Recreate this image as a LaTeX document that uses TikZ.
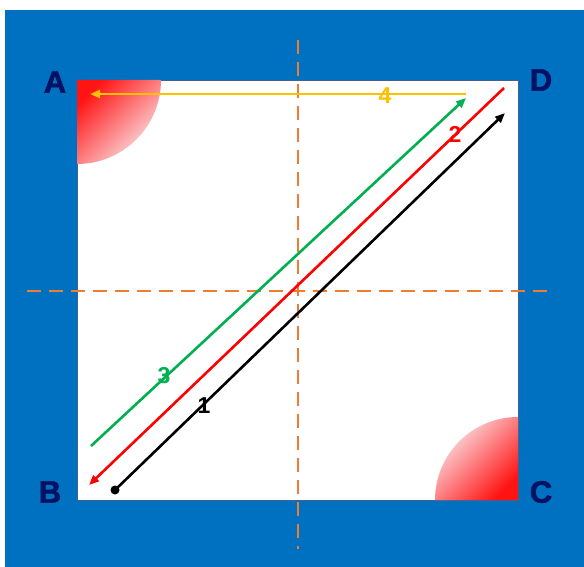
\documentclass[tikz,border=0pt]{standalone}
\usepackage{fontspec}
\setmainfont{Liberation Sans}
\newfontface\heavyfont{Liberation Sans Bold}[FakeBold=1.8]
\usetikzlibrary{arrows.meta}
\definecolor{bgblue}{RGB}{0,112,192}
\definecolor{navy}{RGB}{0,18,100}
\definecolor{dorange}{RGB}{237,125,49}
\definecolor{gold}{RGB}{255,192,0}
\definecolor{mgreen}{RGB}{0,176,80}
\definecolor{mred}{RGB}{255,0,0}
\definecolor{redc}{RGB}{255,20,20}
\definecolor{palec}{RGB}{250,236,240}
\definecolor{edgec}{RGB}{70,95,140}
\begin{document}
\begin{tikzpicture}[x=1pt,y=-1pt,
  corner/.style={font=\fontsize{31}{31}\heavyfont, text=navy, inner sep=0pt},
  num/.style={font=\fontsize{23}{23}\selectfont\bfseries, inner sep=0pt},
  ray/.style={line width=2.6pt},
  tip/.style={-{Triangle[length=10pt,width=8pt]}},
  guide/.style={dorange, line width=2.4pt, dash pattern=on 14pt off 8pt}]
\useasboundingbox (0,0) rectangle (584,567);
\fill[bgblue] (5,10) rectangle (584,567);
\draw[edgec, line width=0.6pt, fill=white] (77,80) rectangle (518,500);
% shaded corners
\shade[top color=redc, bottom color=palec, shading angle=45]
  (77,80) -- (161,80) arc[start angle=0, end angle=-90, radius=84pt] -- cycle;
\shade[top color=palec, bottom color=redc, shading angle=45]
  (518,500) -- (435,500) arc[start angle=180, end angle=90, radius=83pt] -- cycle;
% guides
\coordinate (vt) at (298,40);
\coordinate (vb) at (298,549);
\coordinate (hl) at (27,291);
\coordinate (hr) at (549,291);
\draw[guide] (vt) -- (vb);
\draw[guide] (hl) -- (hr);
% ray endpoints
\coordinate (k0) at (115,490);
\coordinate (k1) at (505,113);
\coordinate (r0) at (504,88);
\coordinate (r1) at (89,485);
\coordinate (g0) at (91,446);
\coordinate (g1) at (466,98);
\coordinate (y0) at (466,94);
\coordinate (y1) at (90,94);
\draw[ray, black, tip] (k0) -- (k1);
\fill[black] (k0) circle[radius=4.5pt];
\draw[ray, mred, tip] (r0) -- (r1);
\draw[ray, mgreen, tip] (g0) -- (g1);
\draw[ray, gold, tip] (y0) -- (y1);
% labels
\node[num, text=gold] (n4) at (385,96) {4};
\node[num, text=mred] (n2) at (455,134) {2};
\node[num, text=mgreen] (n3) at (164,376) {3};
\node[num, text=black] (n1) at (204,406) {1};
\node[corner] (A) at (55,82) {A};
\node[corner] (D) at (541,80) {D};
\node[corner] (B) at (50,492) {B};
\node[corner] (C) at (541,492) {C};
\end{tikzpicture}
\end{document}
